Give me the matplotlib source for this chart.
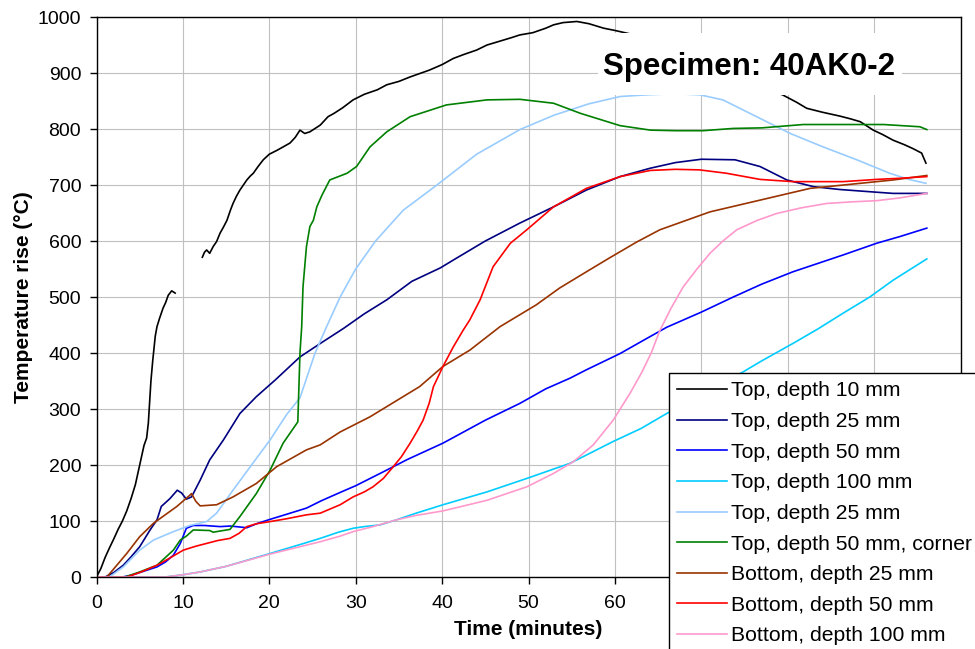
import numpy as np
import matplotlib

matplotlib.use("Agg")
from matplotlib import pyplot as plt
from matplotlib.patches import Rectangle

nan = np.nan

# time (minutes) / temperature rise (deg C)
black_t = [0, 0.5, 1, 1.5, 2, 2.5, 3, 3.5, 4, 4.5, 5, 5.5, 5.8, 6.0, 6.1, 6.3, 6.5, 6.8, 7.0, 7.3,
           7.7, 8.0, 8.3, 8.7, 9.1, nan, 12.25, 12.5, 12.75, 13.1, 13.5, 13.9, 14.3, 14.7, 15.1,
           15.5, 15.8, 16.2, 16.6, 17.0, 17.4, 17.8, 18.15, 18.7, 19.3, 20.0, 20.9, 21.6, 22.4,
           23.0, 23.55, 24.1, 24.7, 25.3, 25.9, 26.8, 27.5, 28.5, 29.7, 31, 32.5, 33.6, 35, 36.3,
           37.4, 38.5, 40, 41.3, 42.5, 44, 45.2, 46.5, 48, 49, 50.5, 52, 52.9, 54, 55.6, 57, 58.7,
           60, 61.7, 66, 70, 75, 79.4, 81, 82.2, 84, 86.05, 87.3, 88.4, 89.9, 91, 92.2, 93.5,
           94.5, 95.5, 96.0]
black_T = [0, 15, 35, 52, 68, 85, 100, 118, 140, 165, 200, 235, 248, 275, 300, 350, 385, 430, 447,
           462, 480, 490, 503, 511, 507, nan, 571, 580, 584, 578, 590, 599, 614, 625, 637, 655,
           667, 680, 691, 700, 709, 716, 721, 733, 745, 755, 762, 768, 775, 785, 798, 792, 795,
           801, 807, 822, 828, 838, 852, 862, 870, 879, 885, 893, 899, 905, 915, 926, 933, 941,
           950, 956, 963, 968, 972, 980, 986, 990, 992, 988, 980, 976, 970, 950, 920, 885, 861,
           848, 837, 830, 823, 818, 813, 798, 790, 780, 772, 765, 757, 739]

navy_t = [0, 1, 2, 3.1, 4, 5, 6.2, 7, 7.5, 8.5, 9.35, 9.85, 10.4, 11, 12, 13.1, 14.7, 16.6, 18.5,
          20.7, 23.55, 25.9, 28.6, 31, 33.6, 36.5, 39.8, 41.3, 45, 49, 52.9, 56.7, 60.6, 64.1,
          67, 70, 73.9, 76.8, 79.9, 83, 86, 89.5, 92.2, 96.1]
navy_T = [0, 0, 8, 21, 36, 54, 84, 102, 126, 140, 155, 150, 139, 143, 173, 209, 245, 292, 322,
          352, 393, 417, 444, 470, 495, 528, 552, 566, 600, 632, 661, 691, 715, 730, 740, 746,
          745, 733, 709, 697, 692, 688, 685, 685]

blue_t = [0, 3, 4, 5, 6, 7, 8, 8.9, 9.7, 10.4, 11.2, 12.5, 14.3, 15.5, 17.4, 18.5, 20.1, 22,
          24.3, 26, 28.2, 30, 33.6, 36, 40.1, 45, 49, 52, 54.8, 56.7, 60.6, 63, 66, 70, 73.7,
          77, 80.6, 83.5, 86.4, 90.3, 93, 96.1]
blue_T = [0, 0, 3, 8, 13, 18, 27, 39, 60, 87, 92, 92, 90, 91, 88, 95, 103, 112, 123, 136, 151,
          163, 191, 210, 239, 280, 310, 336, 355, 370, 399, 420, 446, 473, 500, 523, 545, 560,
          575, 596, 608, 623]

cyan_t = [0, 8, 10, 12, 15, 20.1, 24, 25.9, 28, 29.7, 31, 32.8, 34.7, 37, 40.1, 45.2, 49.8,
          54.8, 59.8, 63, 66, 70, 74.7, 77, 80.6, 83.5, 86.4, 89.5, 92.2, 96.1]
cyan_T = [0, 0, 4, 9, 19, 42, 60, 69, 80, 87, 90, 93, 102, 114, 129, 152, 176, 203, 242, 265,
          292, 325, 365, 386, 417, 443, 471, 500, 530, 568]

lblue_t = [0, 1.5, 3.1, 5, 6.6, 8.9, 10.8, 12.75, 13.9, 15.8, 17.8, 20.1, 22.0, 23.55, 25.3,
           26.6, 28.2, 30, 32.3, 35.5, 39.4, 44, 49, 53, 57, 60.6, 63.7, 67, 69.85, 72.5, 76.4,
           80.3, 84.1, 88, 91.8, 94, 96]
lblue_T = [0, 0, 18, 48, 66, 81, 92, 99, 114, 155, 197, 245, 290, 320, 400, 446, 500, 550, 600,
           655, 700, 755, 799, 825, 845, 858, 861, 863, 861, 852, 822, 792, 768, 745, 721, 710,
           703]

green_t = [0, 3.3, 5, 7, 8.9, 9.7, 10.4, 11.2, 13.1, 13.5, 15.45, 16.6, 18.5, 20.1, 21.6, 23.3,
           23.55, 23.75, 23.9, 24.3, 24.7, 25.1, 25.5, 26.1, 27.0, 29.0, 30.1, 31.65, 33.6, 36.3,
           40.5, 45.2, 49, 52.9, 56, 60.6, 64.1, 67, 70.2, 73.7, 77, 81.8, 91.1, 95.3, 96.1]
green_T = [0, 0, 9, 21, 48, 66, 73, 84, 83, 80, 85, 108, 149, 191, 239, 277, 400, 447, 518, 590,
           626, 637, 661, 682, 709, 721, 733, 768, 795, 822, 843, 852, 853, 846, 828, 806, 798,
           797, 797, 801, 802, 808, 808, 804, 799]

brown_t = [0, 1.2, 3.5, 5, 6.6, 9.3, 10.8, 11.0, 11.5, 12, 13.9, 15.8, 18.5, 20.85, 24.3, 25.9,
           28.2, 31.65, 37.4, 40.1, 43.2, 46.7, 50.9, 53.6, 56.7, 59.4, 62.5, 65.2, 71, 76.8,
           82.6, 88.4, 92.2, 96.1]
brown_T = [0, 0, 42, 72, 96, 126, 146, 149, 135, 127, 129, 143, 167, 197, 227, 236, 259, 286,
           340, 376, 405, 447, 486, 516, 545, 570, 598, 620, 652, 673, 694, 703, 709, 717]

red_t = [0, 3.5, 5, 7, 8.5, 10.05, 11.5, 12.75, 14, 15.45, 16.5, 17.4, 18.5, 20.1, 22, 24.3,
         25.9, 28.2, 29.7, 31, 32, 33.2, 34.35, 35.3, 36.3, 37.1, 37.8, 38.5, 39, 40.1, 41.3,
         42.45, 43.2, 44.4, 45.9, 47.9, 49.8, 52.9, 56.7, 60.6, 64.1, 67, 69.8, 72.9, 76.8, 80.6,
         86.4, 90.3, 93, 96.1]
red_T = [0, 0, 8, 21, 34, 48, 55, 60, 65, 69, 78, 90, 95, 99, 104, 111, 114, 129, 143, 152, 161,
         176, 197, 215, 239, 260, 280, 310, 340, 376, 411, 441, 459, 495, 554, 596, 620, 661, 694,
         715, 726, 728, 727, 721, 710, 706, 706, 710, 712, 715]

pink_t = [0, 8, 10, 12, 15, 20.1, 25.9, 28.2, 29.7, 32, 34.7, 37, 40.1, 45.2, 49.8, 52.9, 55.2,
          57.5, 59.8, 61.75, 63.1, 64.2, 65.2, 66.5, 67.9, 69.5, 71, 72.5, 74.1, 76.5, 78.7, 81.5,
          84.5, 87.5, 90.3, 93, 96.1]
pink_T = [0, 0, 4, 9, 19, 41, 63, 73, 81, 90, 102, 110, 118, 137, 161, 185, 206, 236, 280, 328,
          365, 400, 440, 480, 518, 550, 578, 600, 620, 637, 649, 659, 667, 670, 672, 677, 685]

SERIES = [
    ("Top, depth 10 mm", black_t, black_T, "#000000"),
    ("Top, depth 25 mm", navy_t, navy_T, "#000080"),
    ("Top, depth 50 mm", blue_t, blue_T, "#0000FF"),
    ("Top, depth 100 mm", cyan_t, cyan_T, "#00CCFF"),
    ("Top, depth 25 mm", lblue_t, lblue_T, "#99CCFF"),
    ("Top, depth 50 mm, corner", green_t, green_T, "#008000"),
    ("Bottom, depth 25 mm", brown_t, brown_T, "#993300"),
    ("Bottom, depth 50 mm", red_t, red_T, "#FF0000"),
    ("Bottom, depth 100 mm", pink_t, pink_T, "#FF99CC"),
]

x_ticks = list(range(0, 101, 10))
# ticks from 70 on sit under the legend box in the original
x_tick_labels = [str(v) if v <= 60 else "" for v in x_ticks]

W, H = 975, 649  # pixels
AX_L, AX_R, AX_T, AX_B = 96.5, 960.5, 17, 577

plt.rcParams["font.family"] = ["Liberation Sans", "DejaVu Sans"]

fig = plt.figure(figsize=(W / 100, H / 100), dpi=100)
ax = fig.add_axes([AX_L / W, 1 - AX_B / H, (AX_R - AX_L) / W, (AX_B - AX_T) / H])

for label, t, temp, color in SERIES:
    ax.plot(t, temp, color=color, lw=1.2, label=label, zorder=2)

ax.set_xlim(0, 100)
ax.set_ylim(0, 1000)
ax.set_xticks(x_ticks)
ax.set_xticklabels(x_tick_labels)
ax.set_yticks(range(0, 1001, 100))
ax.grid(color="#C0C0C0", lw=0.8)
ax.set_axisbelow(True)
for sp in ax.spines.values():
    sp.set_color("black")
    sp.set_linewidth(1.0)
ax.tick_params(labelsize=14, length=5, width=1, direction="out")
ax.tick_params(axis="x", pad=8)
ax.tick_params(axis="y", pad=6)

ax.set_xlabel("Time (minutes)", fontsize=15, fontweight="bold")
ax.set_ylabel("Temperature rise (°C)", fontsize=15, fontweight="bold")
ax.xaxis.set_label_coords(0.5, (AX_B - 620) / (AX_B - AX_T))
ax.yaxis.set_label_coords((33 - AX_L) / (AX_R - AX_L), 0.5)


def px_ax(x, y):
    return (x - AX_L) / (AX_R - AX_L), (AX_B - y) / (AX_B - AX_T)


# white box behind the specimen title (hides the lines under it)
x0, y0 = px_ax(598, 95)
x1, y1 = px_ax(902, 33)
ax.add_patch(Rectangle((x0, y0), x1 - x0, y1 - y0, transform=ax.transAxes,
                       facecolor="white", edgecolor="none", zorder=3))
tx, ty = px_ax(603, 75)
ax.text(tx, ty, "Specimen: 40AK0-2", transform=ax.transAxes, ha="left", va="baseline",
        fontsize=22.5, fontweight="bold", zorder=4)

handles, labels = ax.get_legend_handles_labels()
leg = fig.legend(handles, labels, loc="upper left", bbox_to_anchor=(669 / W, 1 - 373 / H),
                 fontsize=15.2, frameon=True, fancybox=False, edgecolor="black", framealpha=1,
                 borderaxespad=0, borderpad=0.4, labelspacing=0.55, handlelength=2.35,
                 handletextpad=0.2)
leg.get_frame().set_linewidth(1.0)

fig.savefig("out.png", dpi=100)
